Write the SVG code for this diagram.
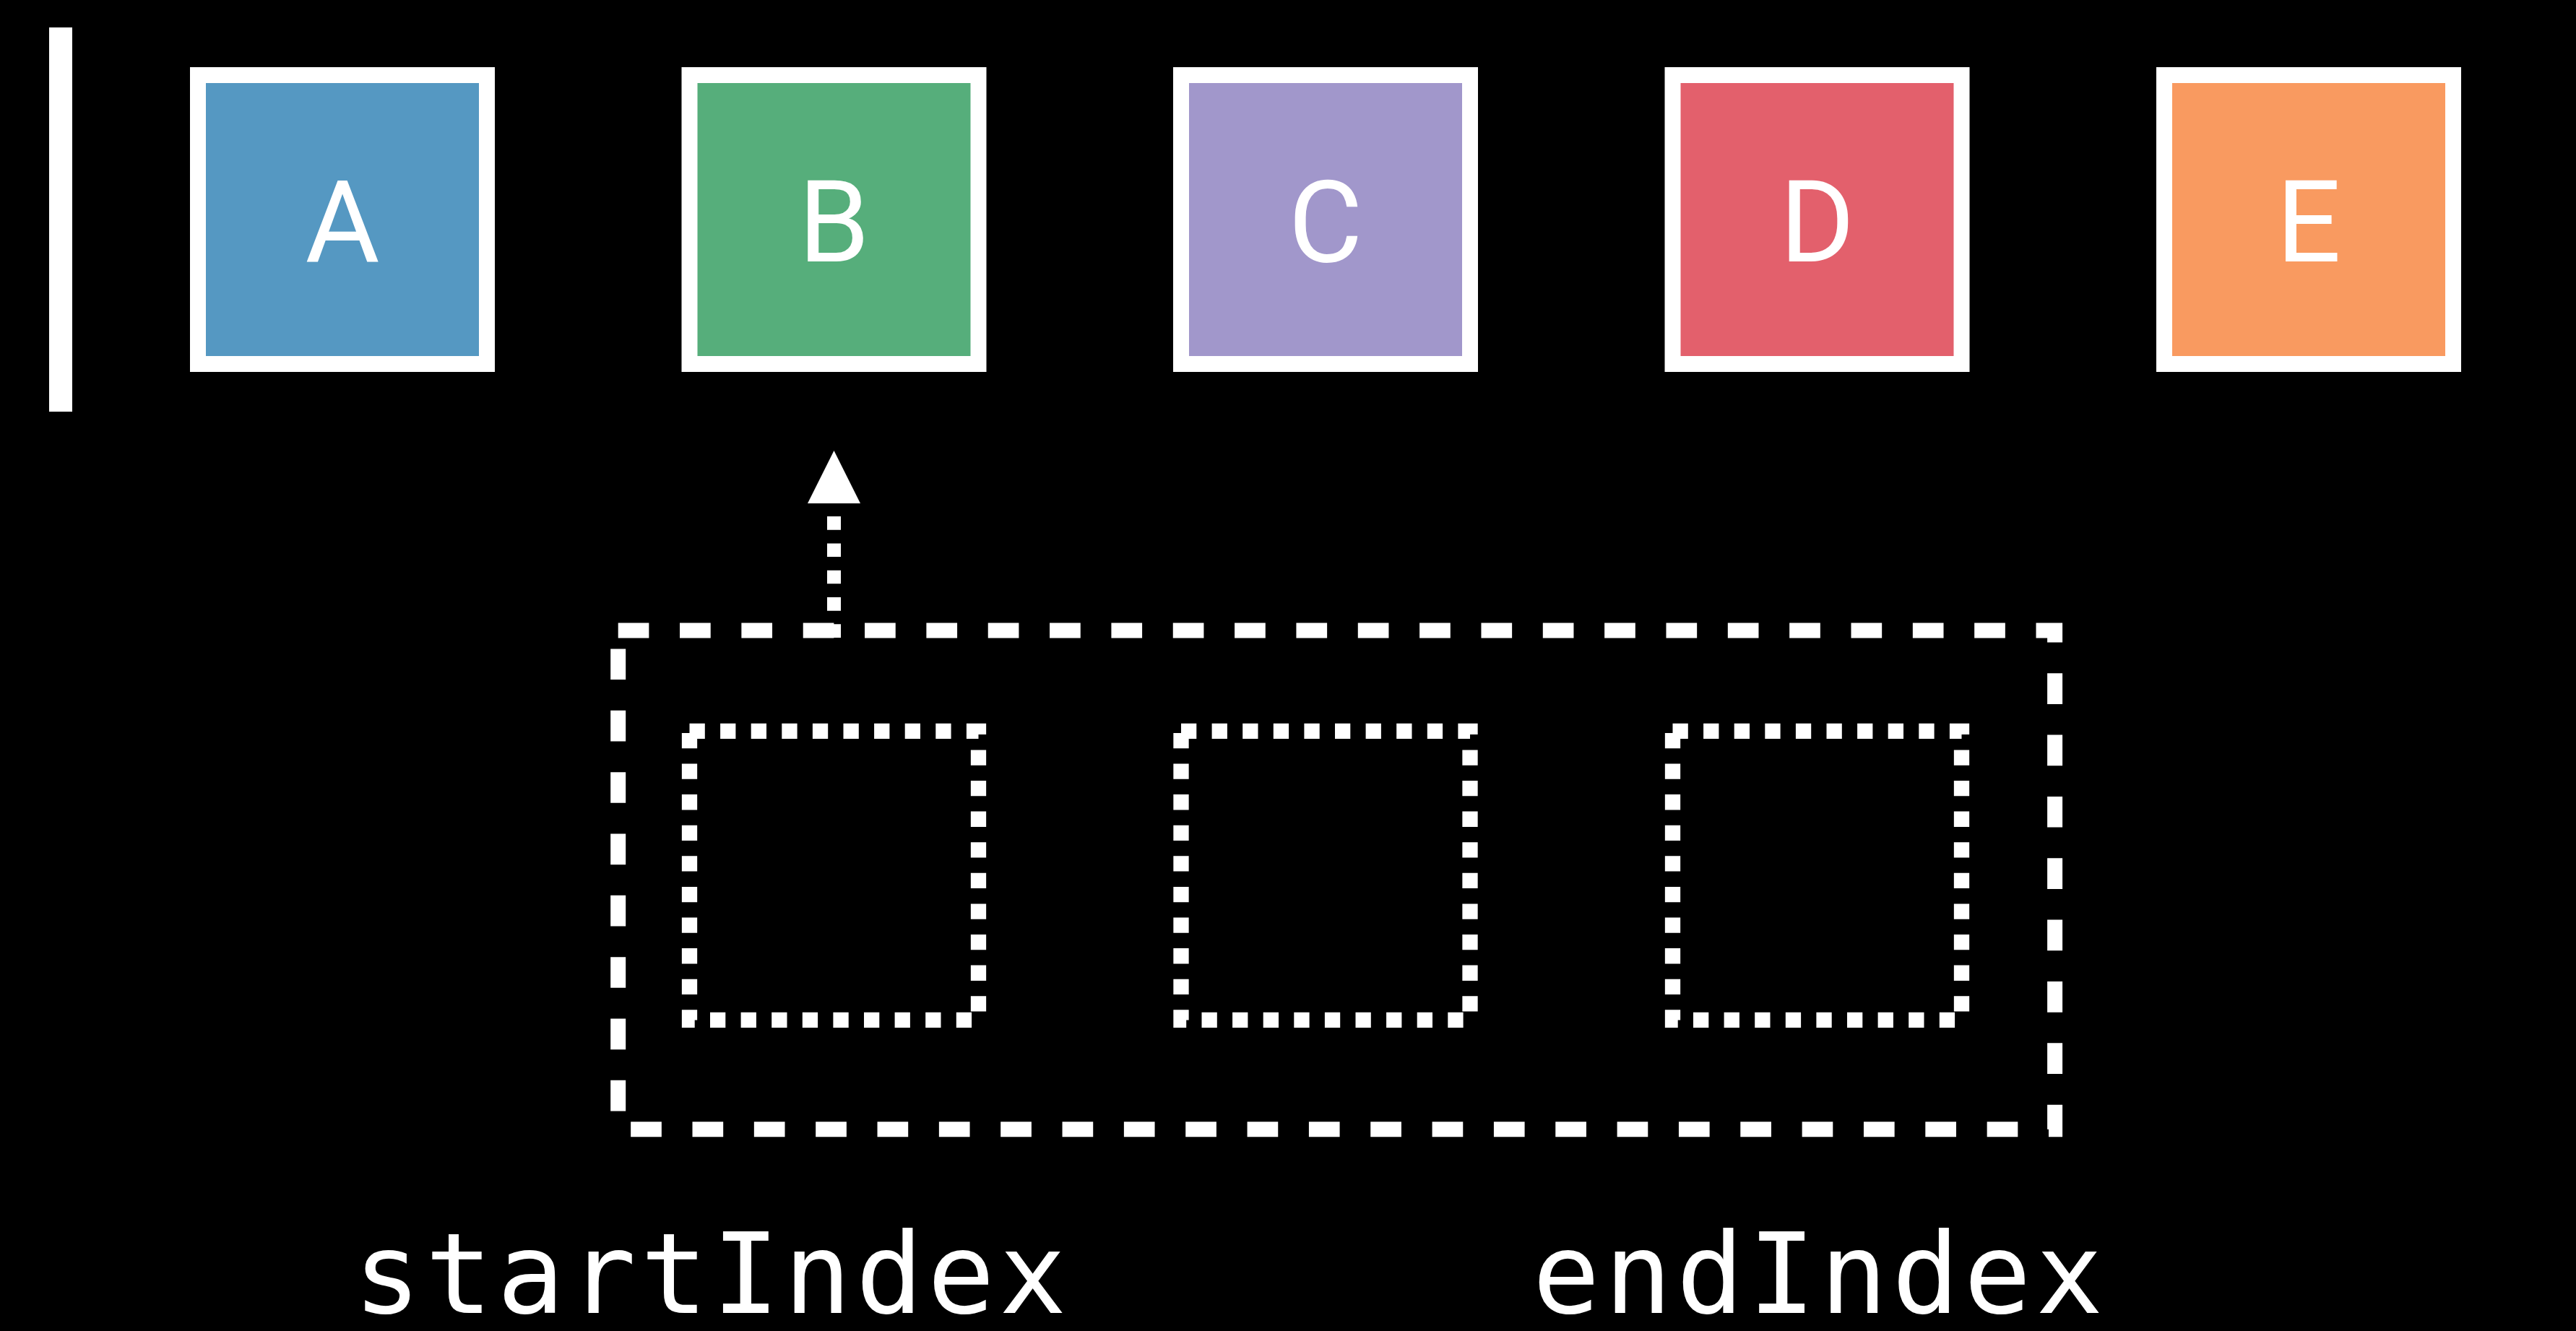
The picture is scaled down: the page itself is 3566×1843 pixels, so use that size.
<svg xmlns="http://www.w3.org/2000/svg" width="3566" height="1843" viewBox="0 0 3566 1843">
  <style>
    .cell { stroke: #ffffff; stroke-width: 22; }
    .cell-label { font-family: Roboto, "Liberation Sans", sans-serif; font-size: 158px; fill: #ffffff; text-anchor: middle; }
    .window { fill: none; stroke: #ffffff; stroke-width: 21; stroke-dasharray: 42.67 42.67; }
    .slot { fill: none; stroke: #ffffff; stroke-width: 21.3; stroke-dasharray: 21.3 21.3; }
    .link { fill: none; stroke: #ffffff; stroke-width: 19; stroke-dasharray: 18.66 18.66; }
    .code { font-family: "DejaVu Sans Mono", "Liberation Mono", monospace; font-size: 155px; fill: #ffffff; text-anchor: middle; }
  </style>
  <defs>
    <marker id="arrowhead" markerUnits="userSpaceOnUse" markerWidth="73" markerHeight="73" viewBox="0 0 73 73" refX="0" refY="36.5" orient="auto">
      <path d="M0,0 L73,36.5 L0,73 Z" fill="#ffffff"/>
    </marker>
  </defs>

  <rect width="3566" height="1843" fill="#000000"/>

  <!-- insertion cursor -->
  <g id="cursor">
    <rect x="68" y="38" width="32" height="532" fill="#ffffff"/>
  </g>

  <!-- collection elements -->
  <g id="cell-a">
    <rect class="cell" x="274" y="104" width="400" height="400" fill="#5598C2"/>
    <text class="cell-label" x="474" y="362">A</text>
  </g>
  <g id="cell-b">
    <rect class="cell" x="954.5" y="104" width="400" height="400" fill="#56AE7B"/>
    <text class="cell-label" x="1154.5" y="362">B</text>
  </g>
  <g id="cell-c">
    <rect class="cell" x="1635" y="104" width="400" height="400" fill="#A197CB"/>
    <text class="cell-label" x="1835" y="362">C</text>
  </g>
  <g id="cell-d">
    <rect class="cell" x="2315.5" y="104" width="400" height="400" fill="#E3606C"/>
    <text class="cell-label" x="2515.5" y="362">D</text>
  </g>
  <g id="cell-e">
    <rect class="cell" x="2996" y="104" width="400" height="400" fill="#F99A60"/>
    <text class="cell-label" x="3196" y="362">E</text>
  </g>

  <!-- slice window with its three empty slots -->
  <g id="slice-window">
    <path class="window" d="M855.7,873 H2844.6 V1563.7 H855.7 Z"/>
  </g>
  <g id="slot-1">
    <path class="slot" d="M954.5,1012.4 H1354.5 V1412.4 H954.5 Z"/>
  </g>
  <g id="slot-2">
    <path class="slot" d="M1635,1012.4 H2035 V1412.4 H1635 Z"/>
  </g>
  <g id="slot-3">
    <path class="slot" d="M2315.5,1012.4 H2715.5 V1412.4 H2315.5 Z"/>
  </g>

  <!-- index labels -->
  <g id="label-start">
    <text class="code" x="982.8" y="1817.7" textLength="987" lengthAdjust="spacing">startIndex</text>
  </g>
  <g id="label-end">
    <text class="code" x="2516.4" y="1817.7" textLength="790" lengthAdjust="spacing">endIndex</text>
  </g>

  <!-- connectors -->
  <g id="connectors">
    <path class="link" d="M1154.5,883 V697" marker-end="url(#arrowhead)"/>
  </g>
</svg>
